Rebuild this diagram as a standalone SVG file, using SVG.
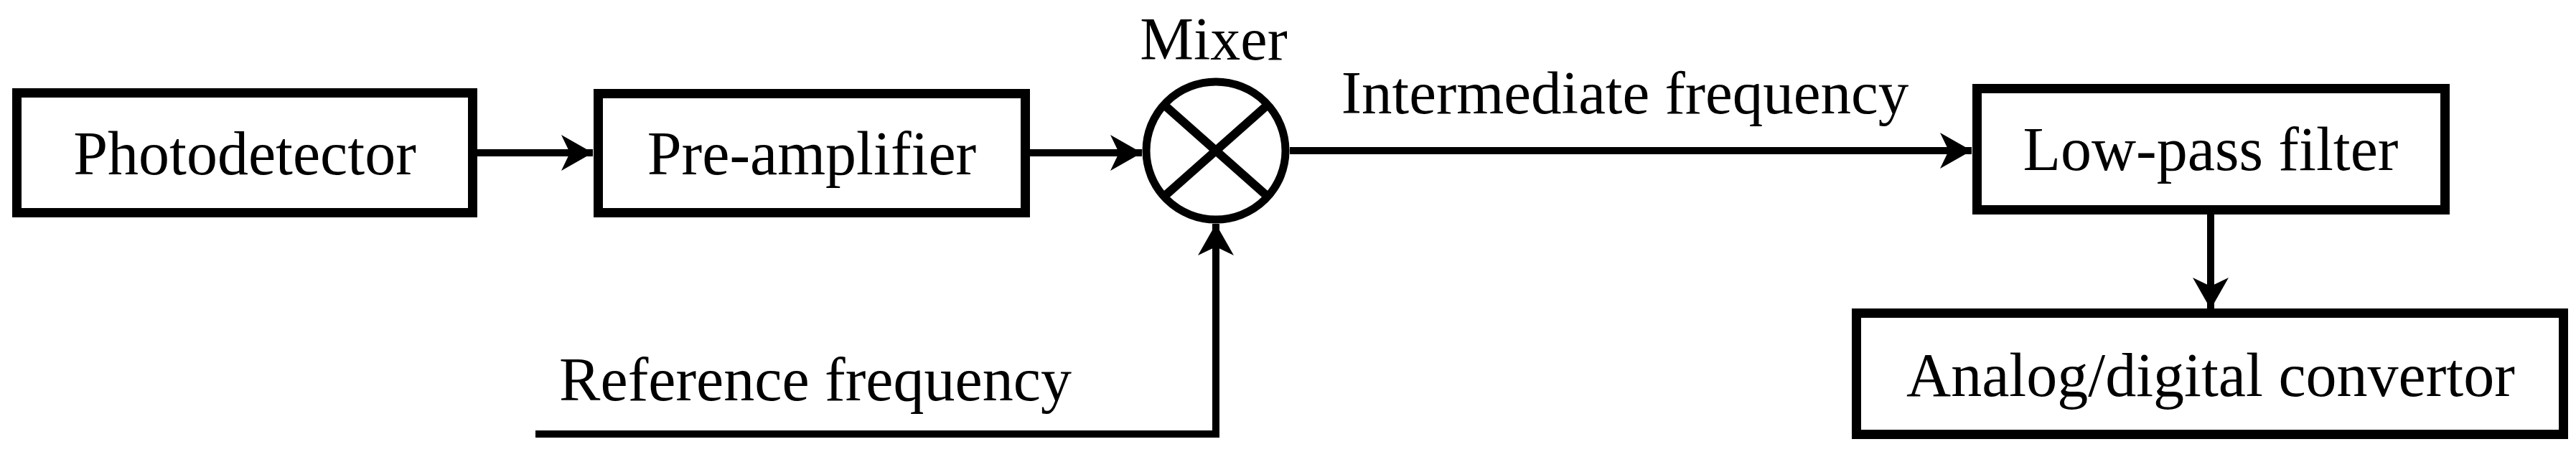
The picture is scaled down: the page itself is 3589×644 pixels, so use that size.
<svg xmlns="http://www.w3.org/2000/svg" width="3589" height="644" viewBox="0 0 3589 644">
<style>
.box{fill:#fff;stroke:#000;stroke-width:13}
.lbl{font-family:"Liberation Serif","Times New Roman",serif;font-size:86px;fill:#000;text-anchor:middle}
.wire{fill:none;stroke:#000;stroke-width:10}
.mix{fill:#fff;stroke:#000;stroke-width:11}
.xl{stroke:#000;stroke-width:12}
</style>
<defs>
<marker id="ah" markerUnits="userSpaceOnUse" viewBox="0 0 46 52" markerWidth="46" markerHeight="52" refX="44" refY="26" orient="auto">
<path d="M0,1 L44,26 L0,51 L12,26 Z" fill="#000"/>
</marker>
</defs>
<rect width="3589" height="644" fill="#fff"/>
<g id="connectors">
<path class="wire" d="M665,213 H826" marker-end="url(#ah)"/>
<path class="wire" d="M1435,213 H1591" marker-end="url(#ah)"/>
<path class="wire" d="M1797,210 H2747" marker-end="url(#ah)"/>
<path class="wire" d="M746,605 H1694 V312" marker-end="url(#ah)"/>
<path class="wire" d="M3080,299 V431" marker-end="url(#ah)"/>
</g>
<g id="photodetector">
<rect class="box" x="23.5" y="129.5" width="635" height="167"/>
<text class="lbl" x="341" y="243">Photodetector</text>
</g>
<g id="preamplifier">
<rect class="box" x="833.5" y="130.5" width="595" height="166"/>
<text class="lbl" x="1131" y="243">Pre-amplifier</text>
</g>
<g id="mixer">
<ellipse class="mix" cx="1694" cy="210" rx="97" ry="96"/>
<line class="xl" x1="1624" y1="148" x2="1764" y2="272"/>
<line class="xl" x1="1764" y1="148" x2="1624" y2="272"/>
<text class="lbl" x="1691" y="83" style="font-size:84px">Mixer</text>
</g>
<g id="intermediate-label">
<text class="lbl" x="2264" y="158" style="font-size:85px">Intermediate frequency</text>
</g>
<g id="reference-label">
<text class="lbl" x="1136" y="558">Reference frequency</text>
</g>
<g id="lowpass">
<rect class="box" x="2754.5" y="123.5" width="652" height="169"/>
<text class="lbl" x="3080" y="237">Low-pass filter</text>
</g>
<g id="adc">
<rect class="box" x="2586.5" y="436.5" width="985" height="169"/>
<text class="lbl" x="3080" y="552">Analog/digital convertor</text>
</g>
</svg>
